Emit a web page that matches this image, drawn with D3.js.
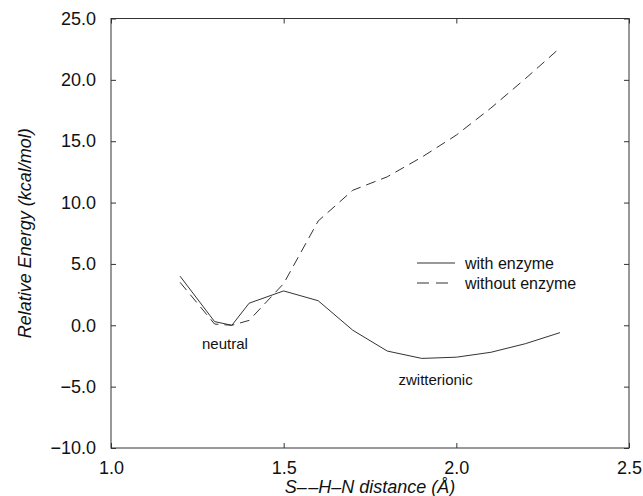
<!DOCTYPE html>
<html><head><meta charset="utf-8">
<script src="https://cdn.jsdelivr.net/npm/d3@7"></script>
<style>body{margin:0;background:#fff}svg{display:block}text{font-family:"Liberation Sans",Arial,Helvetica,sans-serif;fill:#111}</style>
</head><body>
<svg id="c" width="643" height="496"></svg>
<script>
const distances = [1.2, 1.3, 1.35, 1.4, 1.5, 1.6, 1.7, 1.8, 1.9, 2.0, 2.1, 2.2, 2.3];
const withEnzyme = [4.0, 0.3, 0.0, 1.8, 2.8, 2.0, -0.4, -2.1, -2.7, -2.6, -2.2, -1.5, -0.6];
const withoutEnzyme = [3.5, 0.1, 0.0, 0.4, 3.4, 8.5, 11.0, 12.1, 13.7, 15.5, 17.7, 20.1, 22.6];
const xTicks = [1.0, 1.5, 2.0, 2.5];
const yTicks = [-10, -5, 0, 5, 10, 15, 20, 25];
const seriesNames = ["with enzyme", "without enzyme"];
const annotations = [{text: "neutral", x: 1.33, y: -1.9}, {text: "zwitterionic", x: 1.94, y: -4.9}];

const L = 111, R = 629, T = 18.5, B = 448;
const svg = d3.select("#c");
const x = d3.scaleLinear().domain([1.0, 2.5]).range([L, R]);
const y = d3.scaleLinear().domain([-10, 25]).range([B, T]);
const fmt = d3.format(".1f");
const minus = s => s.replace("-", "\u2212");

// frame
svg.append("rect").attr("x", L).attr("y", T).attr("width", R - L).attr("height", B - T)
  .attr("fill", "none").attr("stroke", "#333").attr("stroke-width", 1);

// axes
const gb = svg.append("g").attr("transform", `translate(0,${B})`)
  .call(d3.axisBottom(x).tickValues(xTicks).tickFormat(fmt).tickSizeInner(-5).tickSizeOuter(0).tickPadding(13));
const gt = svg.append("g").attr("transform", `translate(0,${T})`)
  .call(d3.axisTop(x).tickValues(xTicks).tickSizeInner(-5).tickSizeOuter(0).tickFormat(""));
const gl = svg.append("g").attr("transform", `translate(${L},0)`)
  .call(d3.axisLeft(y).tickValues(yTicks).tickFormat(d => minus(fmt(d))).tickSizeInner(-5).tickSizeOuter(0).tickPadding(15));
const gr = svg.append("g").attr("transform", `translate(${R},0)`)
  .call(d3.axisRight(y).tickValues(yTicks).tickSizeInner(-5).tickSizeOuter(0).tickFormat(""));
[gb, gt, gl, gr].forEach(g => {
  g.select(".domain").remove();
  g.selectAll("line").attr("stroke", "#333");
  g.selectAll("text").style("font-size", "18px").attr("fill", "#111")
    .style("font-family", '"Liberation Sans",Arial,sans-serif');
});

// titles
svg.append("text").attr("x", (L + R) / 2).attr("y", 493).attr("text-anchor", "middle")
  .style("font-size", "18px").style("font-style", "italic").text("S\u2013\u200A\u2013H\u2013N distance (\u00c5)");
svg.append("text").attr("transform", `translate(31,${(T + B) / 2}) rotate(-90)`).attr("text-anchor", "middle")
  .style("font-size", "18px").style("font-style", "italic").text("Relative Energy (kcal/mol)");

// lines
const line = d3.line().x(d => x(d[0])).y(d => y(d[1]));
svg.append("path").datum(distances.map((d, i) => [d, withEnzyme[i]]))
  .attr("d", line).attr("fill", "none").attr("stroke", "#333").attr("stroke-width", 1);
svg.append("path").datum(distances.map((d, i) => [d, withoutEnzyme[i]]))
  .attr("d", line).attr("fill", "none").attr("stroke", "#333").attr("stroke-width", 1)
  .attr("stroke-dasharray", "10,6");

// legend
const lg = svg.append("g");
seriesNames.forEach((n, i) => {
  const ly = 263 + i * 20;
  lg.append("line").attr("x1", 417).attr("x2", 455).attr("y1", ly).attr("y2", ly)
    .attr("stroke", "#333").attr("stroke-width", 1)
    .attr("stroke-dasharray", i === 1 ? "12,7" : null);
  lg.append("text").attr("x", 465).attr("y", ly + 5.5).style("font-size", "16px").text(n);
});

// annotations
annotations.forEach(a => {
  svg.append("text").attr("x", x(a.x)).attr("y", y(a.y)).attr("text-anchor", "middle")
    .style("font-size", "15px").text(a.text);
});
</script>
</body></html>
